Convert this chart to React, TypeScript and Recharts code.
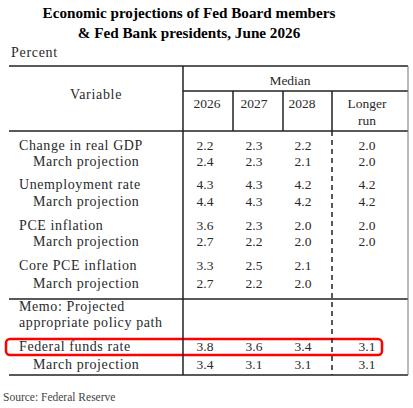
import { ScatterChart, Scatter, XAxis, YAxis, ReferenceLine, ReferenceArea } from 'recharts'

// table content
const titleLines = ['Economic projections of Fed Board members', '& Fed Bank presidents, June 2026']
const unitLabel = 'Percent'
const sourceLabel = 'Source: Federal Reserve'
const years = ['2026', '2027', '2028']
const longerRun = ['Longer', 'run']
const memoLines = ['Memo: Projected', 'appropriate policy path']
const variables = ['Change in real GDP', 'Unemployment rate', 'PCE inflation', 'Core PCE inflation', 'Federal funds rate']
const priorLabel = 'March projection'

const gdp = ['2.2', '2.3', '2.2', '2.0']
const gdpMarch = ['2.4', '2.3', '2.1', '2.0']
const unemployment = ['4.3', '4.3', '4.2', '4.2']
const unemploymentMarch = ['4.4', '4.3', '4.2', '4.2']
const pce = ['3.6', '2.3', '2.0', '2.0']
const pceMarch = ['2.7', '2.2', '2.0', '2.0']
const corePce = ['3.3', '2.5', '2.1', '']
const corePceMarch = ['2.7', '2.2', '2.0', '']
const fedFunds = ['3.8', '3.6', '3.4', '3.1']
const fedFundsMarch = ['3.4', '3.1', '3.1', '3.1']

// layout (pixels)
const W = 413
const H = 408
const LEFT = 9
const RIGHT = 408
const SPLIT = 183
const COL_LINES = [233, 283, 332]
const HEAD_X = [207, 254, 302]
const VALUE_X = [205, 254, 303, 367]
const TOP = 66
const MEDIAN_RULE = 91
const HEAD_RULE = 131
const MEMO_RULE = 299
const BOTTOM = 375
const ROW_Y = [145, 161, 184, 201, 225, 241, 265, 283, 346, 364]
const TEXT = '#2a2a2a'
const SERIF = '"Liberation Serif", "Times New Roman", serif'

type Cell = {
  x: number
  y: number
  text: string
  anchor?: string
  size?: number
  spacing?: number
  bold?: boolean
  color?: string
}

const rows = [gdp, gdpMarch, unemployment, unemploymentMarch, pce, pceMarch, corePce, corePceMarch, fedFunds, fedFundsMarch]

const cells: Cell[] = []
titleLines.forEach((t, i) =>
  cells.push({ x: 189, y: 12 + i * 20, text: t, anchor: 'middle', size: 15.2, bold: true, color: '#000' })
)
cells.push({ x: 11, y: 52, text: unitLabel, size: 14, spacing: 0.7 })
cells.push({ x: 96, y: 94, text: 'Variable', anchor: 'middle', size: 14, spacing: 0.7 })
cells.push({ x: 290, y: 80, text: 'Median', anchor: 'middle' })
years.forEach((t, i) => cells.push({ x: HEAD_X[i], y: 103, text: t, anchor: 'middle' }))
longerRun.forEach((t, i) => cells.push({ x: VALUE_X[3], y: 103 + i * 17, text: t, anchor: 'middle' }))
rows.forEach((r, i) => {
  const name = i % 2 === 0 ? variables[i / 2] : priorLabel
  cells.push({ x: i % 2 === 0 ? 19 : 33, y: ROW_Y[i], text: name, size: 14, spacing: 0.6 })
  r.forEach((v, j) => v && cells.push({ x: VALUE_X[j], y: ROW_Y[i], text: v, anchor: 'middle' }))
})
memoLines.forEach((t, i) => cells.push({ x: 19, y: 306 + i * 16, text: t, size: 14, spacing: 0.6 }))
cells.push({ x: 3, y: 397, text: sourceLabel, size: 11.5, color: '#444' })

const renderCell = (p: any) => {
  const c: Cell = p.payload
  return (
    <text
      x={p.cx}
      y={p.cy}
      textAnchor={c.anchor ?? 'start'}
      dominantBaseline="central"
      fontFamily={SERIF}
      fontSize={c.size ?? 13.5}
      letterSpacing={c.spacing ?? 0}
      fontWeight={c.bold ? 'bold' : 'normal'}
      fill={c.color ?? TEXT}
    >
      {c.text}
    </text>
  )
}

const seg = (x1: number, y1: number, x2: number, y2: number) => [
  { x: x1, y: y1 },
  { x: x2, y: y2 },
]

export default function App() {
  const rule = { stroke: '#222', strokeWidth: 1.5, ifOverflow: 'visible' as const }
  return (
    <div style={{ position: 'absolute', left: 0, top: 0, width: W, height: H, background: '#fff' }}>
      <ScatterChart width={W} height={H} margin={{ top: 0, right: 0, bottom: 0, left: 0 }}>
        <XAxis type="number" dataKey="x" domain={[0, W]} hide />
        <YAxis type="number" dataKey="y" domain={[0, H]} reversed hide />
        <ReferenceLine segment={seg(LEFT, TOP, RIGHT, TOP)} {...rule} />
        <ReferenceLine segment={seg(SPLIT, MEDIAN_RULE, RIGHT, MEDIAN_RULE)} {...rule} />
        <ReferenceLine segment={seg(LEFT, HEAD_RULE, RIGHT, HEAD_RULE)} {...rule} />
        <ReferenceLine segment={seg(LEFT, MEMO_RULE, RIGHT, MEMO_RULE)} {...rule} />
        <ReferenceLine segment={seg(LEFT, BOTTOM, RIGHT, BOTTOM)} {...rule} />
        <ReferenceLine segment={seg(SPLIT, TOP, SPLIT, BOTTOM)} {...rule} />
        <ReferenceLine segment={seg(RIGHT, TOP, RIGHT, BOTTOM)} stroke="#777" strokeWidth={1} ifOverflow="visible" />
        {COL_LINES.map((x) => (
          <ReferenceLine key={x} segment={seg(x, MEDIAN_RULE, x, HEAD_RULE)} {...rule} />
        ))}
        <ReferenceLine
          segment={seg(COL_LINES[2], HEAD_RULE, COL_LINES[2], BOTTOM)}
          stroke="#222"
          strokeWidth={1.5}
          strokeDasharray="5 4"
          ifOverflow="visible"
        />
        <ReferenceArea
          x1={6}
          x2={382}
          y1={339}
          y2={355}
          fill="none"
          fillOpacity={0}
          stroke="#ff0000"
          strokeWidth={2.5}
          radius={4}
          ifOverflow="visible"
        />
        <Scatter data={cells} shape={renderCell} isAnimationActive={false} />
      </ScatterChart>
    </div>
  )
}
